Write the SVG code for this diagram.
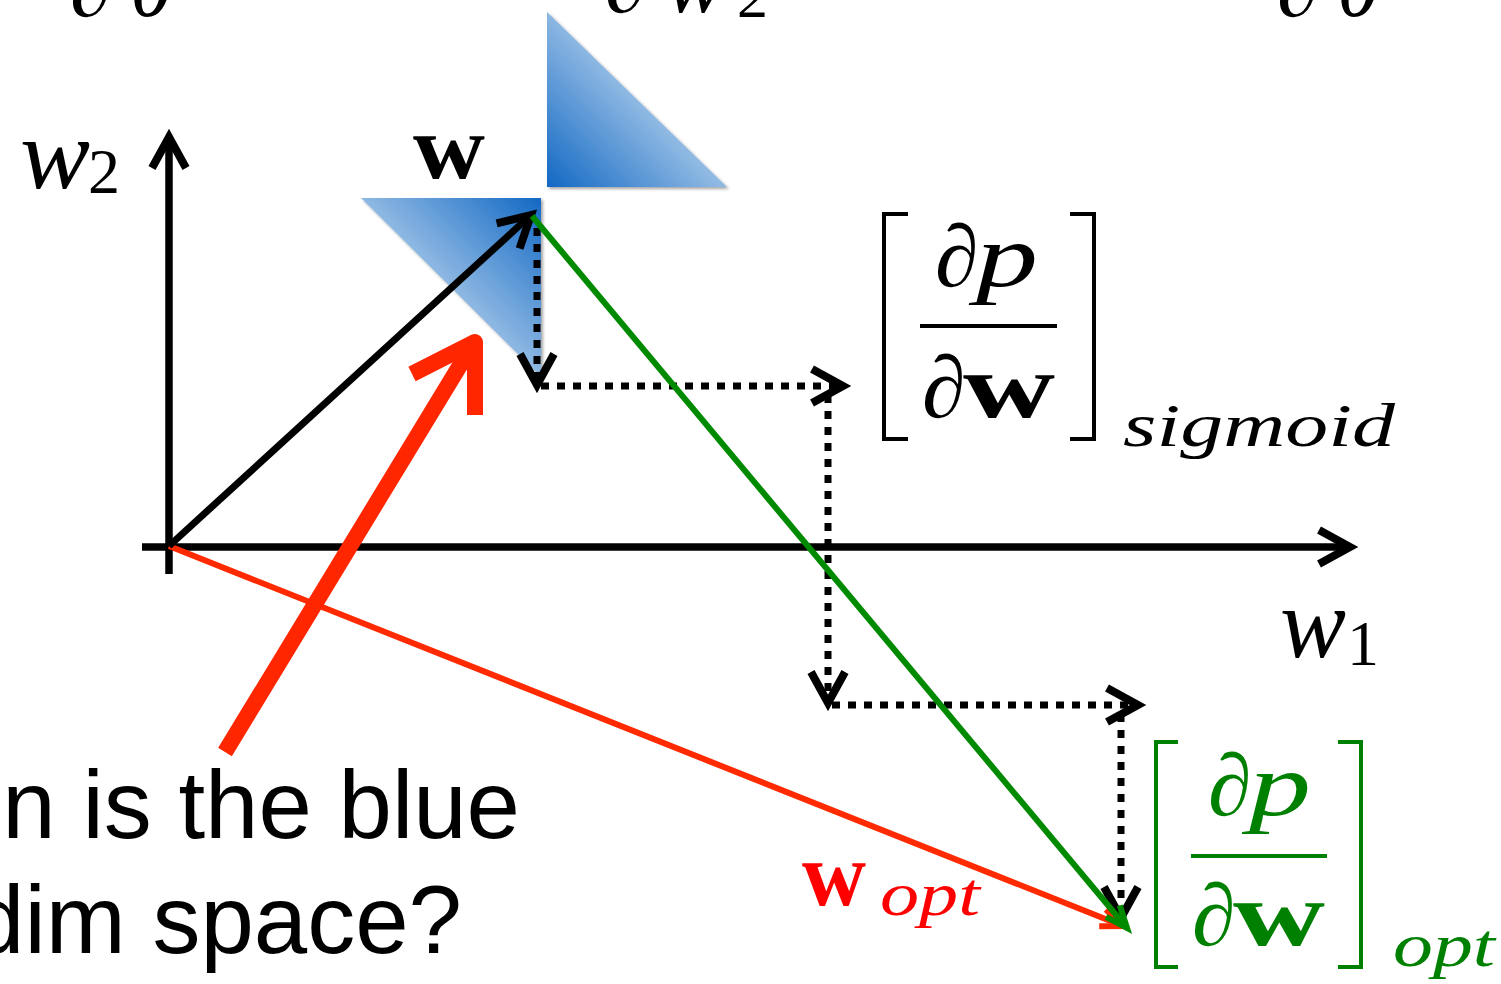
<svg xmlns="http://www.w3.org/2000/svg" width="1501" height="984" viewBox="0 0 1501 984">
<style>
.mi{font-family:"Liberation Serif","DejaVu Serif",serif;font-style:italic}
.mr{font-family:"Liberation Serif","DejaVu Serif",serif}
.mb{font-family:"Liberation Serif","DejaVu Serif",serif;font-weight:bold}
.sans{font-family:"Liberation Sans",Arial,sans-serif;font-size:96px}
.ax{stroke:#000;stroke-width:7.5;fill:none}
.dot{stroke:#000;stroke-width:7;stroke-dasharray:8 8;fill:none}
</style>
<defs>
<linearGradient id="g1" gradientUnits="userSpaceOnUse" x1="547" y1="187" x2="637" y2="100">
<stop offset="0" stop-color="#1268c4"/><stop offset="1" stop-color="#8fb9e3"/>
</linearGradient>
<linearGradient id="g2" gradientUnits="userSpaceOnUse" x1="541" y1="198" x2="451" y2="288">
<stop offset="0" stop-color="#1268c4"/><stop offset="1" stop-color="#8fb9e3"/>
</linearGradient>
<filter id="sh" x="-10%" y="-10%" width="130%" height="130%">
<feDropShadow dx="2" dy="2" stdDeviation="1.5" flood-opacity="0.35"/>
</filter>
<marker id="ab" markerUnits="userSpaceOnUse" viewBox="-45 -25 55 50" markerWidth="55" markerHeight="50" refX="0" refY="0" orient="auto" overflow="visible">
<path d="M-31,-17 L0,0 L-31,17" fill="none" stroke="#000" stroke-width="8" stroke-dasharray="none"/>
</marker>
<marker id="ad" markerUnits="userSpaceOnUse" viewBox="-45 -25 55 50" markerWidth="55" markerHeight="50" refX="0" refY="0" orient="auto" overflow="visible">
<path d="M-31,-17 L0,0 L-31,17" fill="none" stroke="#000" stroke-width="8" stroke-dasharray="none"/>
</marker>
<marker id="ag" markerUnits="userSpaceOnUse" viewBox="-30 -15 35 30" markerWidth="35" markerHeight="30" refX="0" refY="0" orient="auto" overflow="visible">
<path d="M-22,-9 L0,0 L-22,9" fill="none" stroke="#008a00" stroke-width="6"/>
</marker>
<marker id="ar" markerUnits="userSpaceOnUse" viewBox="-30 -15 35 30" markerWidth="35" markerHeight="30" refX="0" refY="0" orient="auto" overflow="visible">
<path d="M-22,-9 L0,0 L-22,9" fill="none" stroke="#ff2a00" stroke-width="6"/>
</marker>
</defs>

<g id="top-partial">
<text class="mi" x="70" y="16" font-size="88">∂</text>
<text class="mi" x="130" y="16" font-size="88">θ</text>
<text class="mi" x="605" y="12" font-size="88">∂</text>
<text class="mi" x="665" y="12" font-size="88" textLength="60" lengthAdjust="spacingAndGlyphs">w</text>
<text class="mr" x="737" y="17" font-size="62">2</text>
<text class="mi" x="1277" y="16" font-size="88">∂</text>
<text class="mi" x="1337" y="16" font-size="88">θ</text>
</g>

<g id="triangles">
<path d="M547,12 L547,187 L727,187 Z" fill="url(#g1)" filter="url(#sh)"/>
<path d="M361,198 L541,198 L541,377 Z" fill="url(#g2)" filter="url(#sh)"/>
</g>

<g id="axes">
<line class="ax" x1="169" y1="574" x2="169" y2="137" marker-end="url(#ab)"/>
<line class="ax" x1="142" y1="547" x2="1350" y2="547" marker-end="url(#ab)"/>
<text class="mi" x="20" y="188" font-size="100" textLength="70" lengthAdjust="spacingAndGlyphs">w</text>
<text class="mr" x="88" y="193" font-size="64">2</text>
<text class="mi" x="1280" y="657" font-size="100" textLength="66" lengthAdjust="spacingAndGlyphs">w</text>
<text class="mr" x="1347" y="665" font-size="64">1</text>
</g>

<g id="connectors">
<line x1="169" y1="546" x2="1123" y2="926" stroke="#ff2a00" stroke-width="6" marker-end="url(#ar)"/>
<line x1="169" y1="546" x2="531" y2="215" stroke="#000" stroke-width="7" marker-end="url(#ab)"/>
<line class="dot" x1="537" y1="228" x2="537" y2="385" marker-end="url(#ad)"/>
<line class="dot" x1="541" y1="386" x2="843" y2="386" marker-end="url(#ad)"/>
<line class="dot" x1="828" y1="395" x2="828" y2="703" marker-end="url(#ad)"/>
<line class="dot" x1="832" y1="705" x2="1138" y2="705" marker-end="url(#ad)"/>
<line class="dot" x1="1121" y1="714" x2="1121" y2="918" marker-end="url(#ad)"/>
<line x1="532" y1="216" x2="1127" y2="928" stroke="#008a00" stroke-width="6" marker-end="url(#ag)"/>
</g>

<g id="label-w">
<text class="mb" x="413" y="178" font-size="92" textLength="72" lengthAdjust="spacingAndGlyphs">w</text>
</g>

<g id="big-arrow">
<line x1="225" y1="752" x2="473" y2="344" stroke="#ff2600" stroke-width="16"/>
<path d="M412,374 L475,342 L475,415" fill="none" stroke="#ff2600" stroke-width="16" stroke-linejoin="round"/>
</g>

<g id="deriv-sigmoid">
<path d="M908,214 H884 V439 H908" fill="none" stroke="#000" stroke-width="4"/>
<path d="M1070,214 H1094 V439 H1070" fill="none" stroke="#000" stroke-width="4"/>
<text class="mi" x="935" y="286" font-size="88">∂</text>
<text class="mi" x="976" y="286" font-size="88" textLength="62" lengthAdjust="spacingAndGlyphs">p</text>
<line x1="920" y1="326" x2="1057" y2="326" stroke="#000" stroke-width="4"/>
<text class="mi" x="922" y="417" font-size="88">∂</text>
<text class="mb" x="963" y="417" font-size="92" textLength="92" lengthAdjust="spacingAndGlyphs">w</text>
<text class="mi" x="1123" y="446" font-size="62" textLength="272" lengthAdjust="spacingAndGlyphs">sigmoid</text>
</g>

<g id="w-opt" fill="#ff0000">
<text class="mb" x="802" y="905" font-size="92" textLength="64" lengthAdjust="spacingAndGlyphs">w</text>
<text class="mi" x="880" y="915" font-size="62" textLength="100" lengthAdjust="spacingAndGlyphs">opt</text>
</g>

<g id="deriv-opt" fill="#008000">
<path d="M1178,742 H1156 V967 H1178" fill="none" stroke="#008000" stroke-width="4"/>
<path d="M1338,742 H1361 V967 H1338" fill="none" stroke="#008000" stroke-width="4"/>
<text class="mi" x="1208" y="815" font-size="88">∂</text>
<text class="mi" x="1249" y="815" font-size="88" textLength="62" lengthAdjust="spacingAndGlyphs">p</text>
<line x1="1191" y1="856" x2="1327" y2="856" stroke="#008000" stroke-width="4"/>
<text class="mi" x="1192" y="945" font-size="88">∂</text>
<text class="mb" x="1233" y="945" font-size="92" textLength="92" lengthAdjust="spacingAndGlyphs">w</text>
<text class="mi" x="1393" y="966" font-size="62" textLength="102" lengthAdjust="spacingAndGlyphs">opt</text>
</g>

<g id="question">
<text class="sans" x="520" y="838" text-anchor="end">n is the blue</text>
<text class="sans" x="462" y="953" text-anchor="end">dim space?</text>
</g>
</svg>
